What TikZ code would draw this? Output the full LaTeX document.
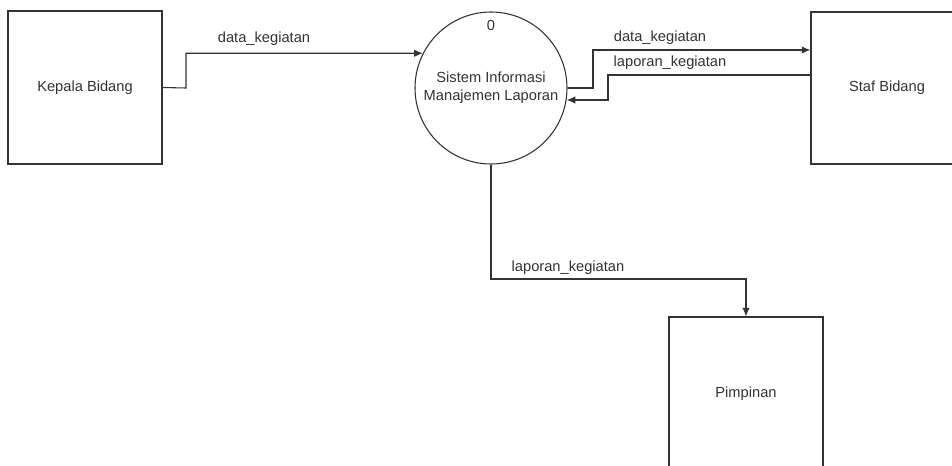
\documentclass[tikz,border=0pt]{standalone}
\usepackage{fontspec}
\setmainfont{Liberation Sans}
\usetikzlibrary{arrows.meta}
\definecolor{ln}{HTML}{333333}
\definecolor{tx}{HTML}{333333}
\tikzset{
  entity/.style={draw=ln, line width=0.8pt, rectangle, fill=white, text=tx, font=\fontsize{11pt}{12pt}\selectfont, inner sep=0pt},
  proc/.style={draw=ln, line width=0.8pt, circle, fill=white, text=tx, align=center, minimum size=114pt, inner sep=0pt, font=\fontsize{11pt}{13.5pt}\selectfont},
  lbl/.style={text=tx, font=\fontsize{11pt}{12pt}\selectfont, inner sep=0pt},
  flow/.style={draw=ln, line width=0.8pt, -{Latex[length=6.5pt,width=5.5pt]}},
}
\begin{document}
\begin{tikzpicture}[x=0.75pt,y=-0.75pt]
\useasboundingbox (0,0) rectangle (952,465);
\clip (0,0) rectangle (952,465);
\fill[white] (0,0) rectangle (952,465);
% entities
\node[entity, minimum width=115.5pt, minimum height=114.75pt] (kb) at (85,87.5) {Kepala Bidang};
\node[entity, minimum width=114pt, minimum height=114pt] (sb) at (887,88) {Staf Bidang};
\node[entity, minimum width=115.5pt, minimum height=114.75pt] (pim) at (746,393.5) {Pimpinan};
% process
\node[proc] (sim) at (491,88) {Sistem Informasi\\Manajemen Laporan};
\node[lbl] (num) at (491,25) {0};
% flows
\draw[flow] (kb.east) -- (186,88) |- (sim.153.4);
\draw[flow] (sim.east) -- (593,88) |- (sb.west |- 0,50);
\draw[flow] (sb.west |- 0,75) -- (608,75) |- (sim.-9);
\draw[flow] (sim.south) |- (746,279) -- (pim.north);
% labels
\node[lbl] (l1) at (264,39) {data\_kegiatan};
\node[lbl] (l2) at (660,38) {data\_kegiatan};
\node[lbl] (l3) at (670,63) {laporan\_kegiatan};
\node[lbl] (l4) at (568,268) {laporan\_kegiatan};
\end{tikzpicture}
\end{document}
